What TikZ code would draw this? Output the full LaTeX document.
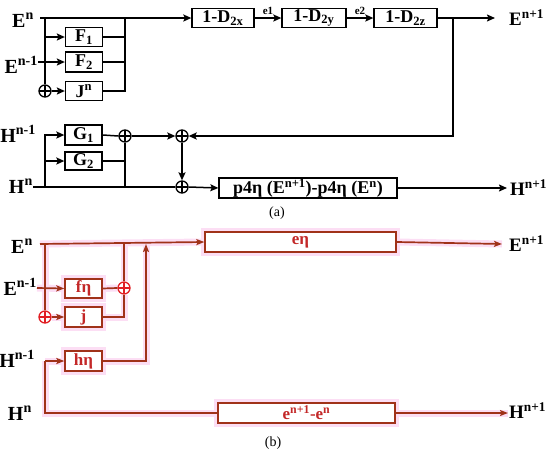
\documentclass[tikz,border=0pt]{standalone}
\usepackage{fontspec}
\setmainfont{Liberation Serif}
\usetikzlibrary{arrows.meta,backgrounds}
\definecolor{bred}{RGB}{160,50,25}
\definecolor{halo}{RGB}{252,222,244}
\definecolor{pred}{RGB}{225,30,35}
\definecolor{tred}{RGB}{195,40,40}
\tikzset{
 lab/.style={font=\bfseries\fontsize{20}{20}\selectfont, inner sep=0},
 rlab/.style={font=\bfseries\fontsize{19}{19}\selectfont, inner sep=0},
 captext/.style={font=\fontsize{14}{14}\selectfont, inner sep=0},
 smalltext/.style={font=\bfseries\fontsize{11}{11}\selectfont, inner sep=0},
 ablk/.style={draw, line width=1.3pt, inner sep=0, font=\bfseries\fontsize{18}{18}\selectfont},
 aln/.style={draw, line width=1.5pt},
 arrtip/.style={-{Stealth[length=8pt,width=7pt,inset=1.5pt]}},
 sumn/.style={circle, draw, line width=1.3pt, minimum size=12pt, inner sep=0,
   path picture={\draw[line width=1.3pt] (path picture bounding box.north) -- (path picture bounding box.south) (path picture bounding box.west) -- (path picture bounding box.east);}},
 bsum/.style={sumn, draw=pred, fill=white, path picture={\draw[line width=1.3pt, pred] (path picture bounding box.north) -- (path picture bounding box.south) (path picture bounding box.west) -- (path picture bounding box.east);}},
 bblk/.style={draw=bred, fill=white, line width=1.3pt, inner sep=0, text=tred,
   font=\bfseries\fontsize{17}{17}\selectfont, preaction={draw=halo, line width=8pt}},
 bln/.style={draw=bred, line width=1.7pt},
 hal/.style={draw=halo, line width=7pt},
}
\newcommand\bpaths[2]{%
 \draw[#1,#2] (40,244) -- (eeta.west);
 \draw[#1] (45,244) -- (p1.north);
 \draw[#1,#2] (p1.east) -- (jb.west);
 \draw[#1,#2] (37,288) -- (feta.west);
 \draw[#1] (feta.east) -- (p2.west);
 \draw[#1] (124,244) -- (p2.north);
 \draw[#1] (jb.east) -| (p2.south);
 \draw[#1,#2] (heta.east) -| (146,244);
 \draw[#1,#2] (45,361) -- (heta.west);
 \draw[#1] (45,361) |- (eb.west);
 \draw[#1,#2] (eeta.east) -- (502,244);
 \draw[#1,#2] (eb.east) -- (508,413);
}
\begin{document}
\begin{tikzpicture}[x=1pt,y=-1pt]
\useasboundingbox (0,0) rectangle (550,453);
% ---------------- part (a)
\node[lab, anchor=base east] (aEn) at (34,27) {E\textsuperscript{n}};
\node[lab, anchor=base east] (aEn1) at (38,73) {E\textsuperscript{n-1}};
\node[lab, anchor=base east] (aHn1) at (36,142) {H\textsuperscript{n-1}};
\node[lab, anchor=base east] (aHn) at (33,193) {H\textsuperscript{n}};
\node[rlab, anchor=base west] (aEp) at (509,25) {E\textsuperscript{n+1}};
\node[rlab, anchor=base west] (aHp) at (510,195) {H\textsuperscript{n+1}};

\node[ablk, minimum width=37pt, minimum height=19pt] (F1) at (84,37) {F\textsubscript{1}};
\node[ablk, minimum width=37pt, minimum height=20pt] (F2) at (84,62) {F\textsubscript{2}};
\node[ablk, minimum width=37pt, minimum height=19pt] (Jn) at (84,91) {J\textsuperscript{n}};
\node[ablk, minimum width=62pt, minimum height=19pt] (Dx) at (223,18) {1-D\textsubscript{2x}};
\node[ablk, minimum width=64pt, minimum height=19pt] (Dy) at (314,18) {1-D\textsubscript{2y}};
\node[ablk, minimum width=63pt, minimum height=19pt] (Dz) at (405.5,18) {1-D\textsubscript{2z}};
\node[ablk, minimum width=37pt, minimum height=20pt] (G1) at (83.5,135) {G\textsubscript{1}};
\node[ablk, minimum width=37pt, minimum height=18pt] (G2) at (83.5,161) {G\textsubscript{2}};
\node[ablk, minimum width=178pt, minimum height=20pt] (P) at (308,188) {p4η (E\textsuperscript{n+1})-p4η (E\textsuperscript{n})};
\node[sumn] (o1) at (45,91) {};
\node[sumn] (o2) at (125,136) {};
\node[sumn] (o3) at (182,136) {};
\node[sumn] (o4) at (182,187) {};
\node[captext] (capa) at (277,213) {(a)};

\draw[aln,arrtip] (40,18) -- (Dx.west);
\draw[aln] (45,18) -- (o1.north);
\draw[aln,arrtip] (45,37) -- (F1.west);
\draw[aln,arrtip] (38,62) -- (F2.west);
\draw[aln,arrtip] (o1.east) -- (Jn.west);
\draw[aln] (F1.east) -- (125,37);
\draw[aln] (F2.east) -- (125,62);
\draw[aln] (Jn.east) -- (125,91) -- (125,18);
\draw[aln,arrtip] (Dx.east) -- node[smalltext, above=3pt] (e1) {e1} (Dy.west);
\draw[aln,arrtip] (Dy.east) -- node[smalltext, above=3pt] (e2) {e2} (Dz.west);
\draw[aln,arrtip] (Dz.east) -- (495,18);
\draw[aln,arrtip] (453,18) |- (o3.east);
\draw[aln] (33,187) -- (o4.west);
\draw[aln,arrtip] (45,187) |- (G1.west);
\draw[aln,arrtip] (45,161) -- (G2.west);
\draw[aln] (G1.east) -- (o2.west);
\draw[aln] (G2.east) -- (125,161);
\draw[aln] (o2.south) -- (125,187);
\draw[aln,arrtip] (o2.east) -- (o3.west);
\draw[aln,arrtip] (o3.south) -- (o4.north);
\draw[aln,arrtip] (o4.east) -- (P.west);
\draw[aln,arrtip] (P.east) -- (507,188);

% ---------------- part (b)
\node[lab, anchor=base east] (bEn) at (33,253) {E\textsuperscript{n}};
\node[lab, anchor=base east] (bEn1) at (37,295) {E\textsuperscript{n-1}};
\node[lab, anchor=base east] (bHn1) at (35,367) {H\textsuperscript{n-1}};
\node[lab, anchor=base east] (bHn) at (32,420) {H\textsuperscript{n}};
\node[rlab, anchor=base west] (bEp) at (509,251) {E\textsuperscript{n+1}};
\node[rlab, anchor=base west] (bHp) at (509,418) {H\textsuperscript{n+1}};

\node[bblk, minimum width=191pt, minimum height=20pt] (eeta) at (300.5,242) {eη};
\node[bblk, minimum width=37pt, minimum height=19pt] (feta) at (83.5,288.5) {fη};
\node[bblk, minimum width=37pt, minimum height=20pt] (jb) at (83.5,317) {j};
\node[bblk, minimum width=37pt, minimum height=20pt] (heta) at (83.5,361) {hη};
\node[bblk, minimum width=177pt, minimum height=20pt] (eb) at (306.5,413) {e\textsuperscript{n+1}-e\textsuperscript{n}};
\node[bsum] (p1) at (45,317) {};
\node[bsum] (p2) at (124,288) {};
\node[captext] (capb) at (273,443) {(b)};

\begin{pgfonlayer}{background}
\bpaths{hal}{-}
\end{pgfonlayer}
\bpaths{bln}{-{Stealth[length=8pt,width=6pt,inset=1.5pt]}}
\end{tikzpicture}
\end{document}
